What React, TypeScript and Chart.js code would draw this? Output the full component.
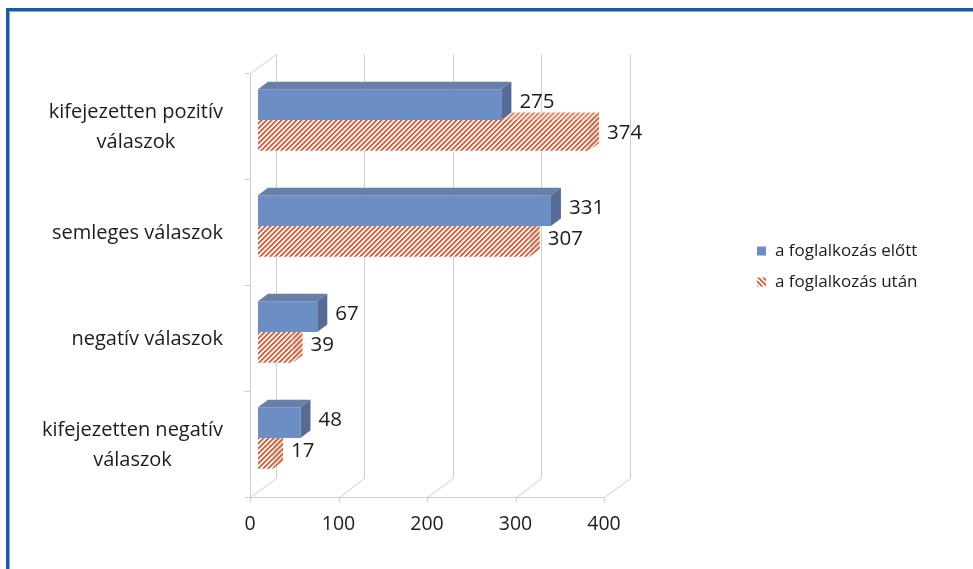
import { useEffect, useRef } from "react"
import { Chart, registerables } from "chart.js"
import type { Plugin } from "chart.js"

Chart.register(...registerables)

// category labels (line-broken as in the original)
const categories = [
  ["kifejezetten pozitív", "válaszok"],
  ["semleges válaszok"],
  ["negatív válaszok"],
  ["kifejezetten negatív", "válaszok"],
]
const seriesNames = ["a foglalkozás előtt", "a foglalkozás után"]
const beforeValues = [275, 331, 67, 48]
const afterValues = [374, 307, 39, 17]
const xMax = 400
const xStep = 100

const FONT = '"Open Sans", "Noto Sans", sans-serif'
const TEXT = "#1c1c1c"
const GRID = "#d3cec9"

// offsets of the front / back planes and bar depth (pseudo 3D)
const FRONT = { dx: -8, dy: 6 }
const BACK = { dx: 17.5, dy: -13 }
const DEPTH = { dx: 10, dy: -7.5 }

// crisp diagonal stripes, built pixel by pixel
function makeHatch(fg: string, mid: string, bg: string, dir: 1 | -1 = 1) {
  const size = 5
  const c = document.createElement("canvas")
  c.width = size
  c.height = size
  const g = c.getContext("2d")!
  for (let i = 0; i < size; i++) {
    for (let j = 0; j < size; j++) {
      const k = (dir === 1 ? i + j : i - j + size * 2) % size
      g.fillStyle = k < 2 ? fg : k === 2 ? mid : bg
      g.fillRect(i, j, 1, 1)
    }
  }
  return g.createPattern(c, "repeat")!
}

export default function App() {
  const canvasRef = useRef<HTMLCanvasElement | null>(null)
  const chartRef = useRef<Chart | null>(null)

  useEffect(() => {
    if (!canvasRef.current) return
    if (chartRef.current) chartRef.current.destroy()

    const redFront = makeHatch("#e35d38", "#f0a58f", "#ffffff")
    const redTop = makeHatch("#e8805f", "#f3b8a5", "#fdeee8")
    const redSide = makeHatch("#c4694c", "#daa08c", "#f3d8cd")
    const redLegend = makeHatch("#e35d38", "#f0a58f", "#ffffff", -1)

    const faces = [
      { top: "#6880a8", side: "#566c95" },
      { top: redTop, side: redSide },
    ]

    // walls, floor and gridlines
    const wallsPlugin: Plugin<"bar"> = {
      id: "walls",
      beforeDatasetsDraw(chart) {
        const { ctx, chartArea } = chart
        const xs = chart.scales.x
        const ys = chart.scales.y
        const { top, bottom, left } = chartArea
        ctx.save()
        ctx.strokeStyle = GRID
        ctx.lineWidth = 1
        const line = (x1: number, y1: number, x2: number, y2: number) => {
          ctx.beginPath()
          ctx.moveTo(Math.round(x1) + 0.5, Math.round(y1) + 0.5)
          ctx.lineTo(Math.round(x2) + 0.5, Math.round(y2) + 0.5)
          ctx.stroke()
        }
        xs.ticks.forEach((t) => {
          const px = xs.getPixelForValue(t.value)
          line(px + BACK.dx, top + BACK.dy, px + BACK.dx, bottom + BACK.dy)
          line(px + FRONT.dx, bottom + FRONT.dy, px + BACK.dx, bottom + BACK.dy)
          line(px + FRONT.dx, bottom + FRONT.dy, px + FRONT.dx, bottom + FRONT.dy + 5)
        })
        const x0 = xs.getPixelForValue(0)
        const x1 = xs.getPixelForValue(xMax)
        line(x0 + FRONT.dx, bottom + FRONT.dy, x1 + FRONT.dx, bottom + FRONT.dy)
        line(left + FRONT.dx, top + FRONT.dy, left + FRONT.dx, bottom + FRONT.dy)
        line(left + FRONT.dx, top + FRONT.dy, left + BACK.dx, top + BACK.dy)
        const n = categories.length
        for (let i = 0; i <= n; i++) {
          let yb: number
          if (i === 0) yb = top
          else if (i === n) yb = bottom
          else yb = (ys.getPixelForTick(i - 1) + ys.getPixelForTick(i)) / 2
          line(left + FRONT.dx - 6, yb + FRONT.dy, left + FRONT.dx, yb + FRONT.dy)
        }
        ctx.restore()
      },
    }

    // top and side faces of each bar
    const bar3dPlugin: Plugin<"bar"> = {
      id: "bar3d",
      afterDatasetDraw(chart, args) {
        const { ctx } = chart
        const f = faces[args.index]
        ctx.save()
        args.meta.data.forEach((el) => {
          const { x, y, base, height } = el.getProps(["x", "y", "base", "height"], true) as any
          const yt = y - height / 2
          const yb = y + height / 2
          ctx.fillStyle = f.top
          ctx.beginPath()
          ctx.moveTo(base, yt)
          ctx.lineTo(base + DEPTH.dx, yt + DEPTH.dy)
          ctx.lineTo(x + DEPTH.dx, yt + DEPTH.dy)
          ctx.lineTo(x, yt)
          ctx.closePath()
          ctx.fill()
          ctx.fillStyle = f.side
          ctx.beginPath()
          ctx.moveTo(x, yt)
          ctx.lineTo(x + DEPTH.dx, yt + DEPTH.dy)
          ctx.lineTo(x + DEPTH.dx, yb + DEPTH.dy)
          ctx.lineTo(x, yb)
          ctx.closePath()
          ctx.fill()
        })
        ctx.restore()
      },
    }

    // value labels, category labels and legend
    const textPlugin: Plugin<"bar"> = {
      id: "texts",
      afterDatasetsDraw(chart) {
        const { ctx, chartArea } = chart
        const ys = chart.scales.y
        ctx.save()
        ctx.fillStyle = TEXT
        ctx.textBaseline = "middle"

        ctx.font = `20.5px ${FONT}`
        ctx.textAlign = "left"
        chart.data.datasets.forEach((ds, di) => {
          chart.getDatasetMeta(di).data.forEach((el, i) => {
            const { x, y } = el.getProps(["x", "y"], true) as any
            ctx.fillText(String(ds.data[i]), x + DEPTH.dx + 8, y - 2)
          })
        })

        ctx.font = `20px ${FONT}`
        ctx.textAlign = "center"
        categories.forEach((lines, i) => {
          const cy = ys.getPixelForTick(i) + FRONT.dy + 1
          const w = Math.max(...lines.map((l) => ctx.measureText(l).width))
          const cx = chartArea.left - 35 - w / 2
          lines.forEach((l, j) => ctx.fillText(l, cx, cy + (j - (lines.length - 1) / 2) * 30))
        })

        ctx.font = `17px ${FONT}`
        ctx.textAlign = "left"
        const lx = chartArea.right + 145
        const rows = [251, 282]
        seriesNames.forEach((name, i) => {
          ctx.fillStyle = i === 0 ? "#6b8ec5" : redLegend
          ctx.fillRect(lx, rows[i] - 4.5, 9, 9)
          ctx.fillStyle = TEXT
          ctx.fillText(name, lx + 18, rows[i])
        })
        ctx.restore()
      },
    }

    chartRef.current = new Chart(canvasRef.current, {
      type: "bar",
      data: {
        labels: categories,
        datasets: [
          {
            label: seriesNames[0],
            data: beforeValues,
            backgroundColor: "#6b8ec5",
            categoryPercentage: 0.58,
            barPercentage: 1,
          },
          {
            label: seriesNames[1],
            data: afterValues,
            backgroundColor: redFront,
            categoryPercentage: 0.58,
            barPercentage: 1,
          },
        ],
      },
      options: {
        indexAxis: "y",
        responsive: false,
        animation: false,
        layout: { padding: { top: 67, right: 361, bottom: 0, left: 0 } },
        plugins: {
          legend: { display: false },
          tooltip: { enabled: false },
        },
        scales: {
          x: {
            min: 0,
            max: xMax,
            ticks: {
              stepSize: xStep,
              color: TEXT,
              font: { family: FONT, size: 19.5 },
              padding: 14,
              labelOffset: FRONT.dx,
            },
            grid: { display: false },
            border: { display: false },
            afterFit: (scale) => {
              scale.height = 78
            },
          },
          y: {
            ticks: { display: false },
            grid: { display: false },
            border: { display: false },
            afterFit: (scale) => {
              scale.width = 258
            },
          },
        },
      },
      plugins: [wallsPlugin, bar3dPlugin, textPlugin],
    })

    return () => {
      if (chartRef.current) {
        chartRef.current.destroy()
        chartRef.current = null
      }
    }
  }, [])

  return (
    <div
      style={{
        position: "fixed",
        left: 0,
        top: 0,
        width: 973,
        height: 569,
        overflow: "hidden",
        background: "#ffffff",
      }}
    >
      <canvas ref={canvasRef} width={973} height={569} style={{ position: "absolute", left: 0, top: 0 }} />
      <div
        style={{
          position: "absolute",
          left: 6,
          top: 8,
          width: 1000,
          height: 600,
          borderTop: "3px solid #1d5aa3",
          borderLeft: "3px solid #1d5aa3",
          boxShadow: "inset 1px 1px 0 #7fa9dd",
          pointerEvents: "none",
        }}
      />
    </div>
  )
}
